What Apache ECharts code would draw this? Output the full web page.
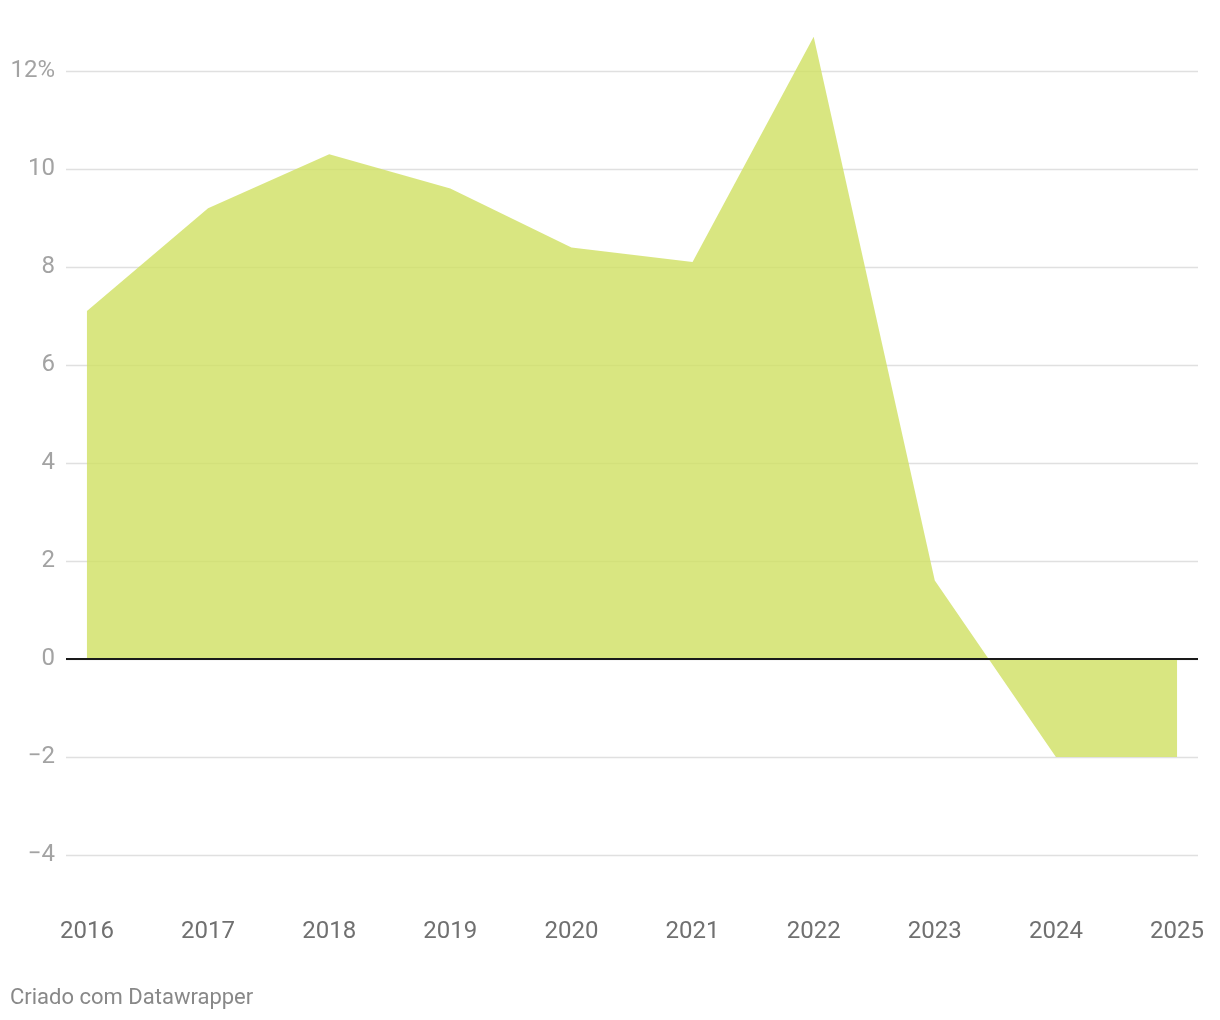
<!DOCTYPE html>
<html>
<head>
<meta charset="utf-8">
<script src="https://cdn.jsdelivr.net/npm/echarts@6/dist/echarts.min.js"></script>
<style>
html,body{margin:0;padding:0;background:#fff;}
#c{width:1220px;height:1020px;}
</style>
</head>
<body>
<div id="c"></div>
<script>
const years = [2016, 2017, 2018, 2019, 2020, 2021, 2022, 2023, 2024, 2025];
const values = [7.1, 9.2, 10.3, 9.6, 8.4, 8.1, 12.7, 1.6, -2.0, -2.0];
const yTicks = [-4, -2, 0, 2, 4, 6, 8, 10, 12];
const footer = 'Criado com Datawrapper';

const chart = echarts.init(document.getElementById('c'), null, {renderer: 'canvas'});
const FONT = 'Roboto';
chart.setOption({
  backgroundColor: '#fff',
  animation: false,
  title: {
    text: footer,
    left: 10,
    top: 987,
    padding: 0,
    textStyle: {fontFamily: FONT, fontSize: 22, fontWeight: 'normal', color: '#888'}
  },
  grid: {left: 66, right: 22, top: 71, bottom: 165, containLabel: false},
  xAxis: {
    type: 'value',
    min: 2015.827,
    max: 2025.173,
    axisLine: {show: false},
    axisTick: {show: false},
    splitLine: {show: false},
    axisLabel: {
      customValues: years,
      margin: 65,
      fontFamily: FONT,
      fontSize: 24,
      color: '#707070',
      formatter: v => String(Math.round(v))
    }
  },
  yAxis: {
    type: 'value',
    min: -4,
    max: 12,
    interval: 2,
    axisLine: {show: false},
    axisTick: {show: false},
    splitLine: {lineStyle: {color: '#e0e0e0', width: 1.3}},
    axisLabel: {
      margin: 11,
      fontFamily: FONT,
      fontSize: 24,
      color: '#a3a3a3',
      padding: [3, 0, 0, 0],
      formatter: v => (v === 12 ? '12%' : (v < 0 ? '\u2212' + Math.abs(v) : String(v)))
    }
  },
  series: [{
    type: 'line',
    clip: false,
    data: years.map((y, i) => [y, values[i]]),
    symbol: 'none',
    lineStyle: {width: 0},
    areaStyle: {color: '#cfe062', opacity: 0.8, origin: 0},
    markLine: {
      silent: true,
      symbol: 'none',
      label: {show: false},
      lineStyle: {color: '#1a1a1a', width: 2, type: 'solid'},
      data: [{yAxis: 0}],
      z: 10
    }
  }]
});
</script>
</body>
</html>
